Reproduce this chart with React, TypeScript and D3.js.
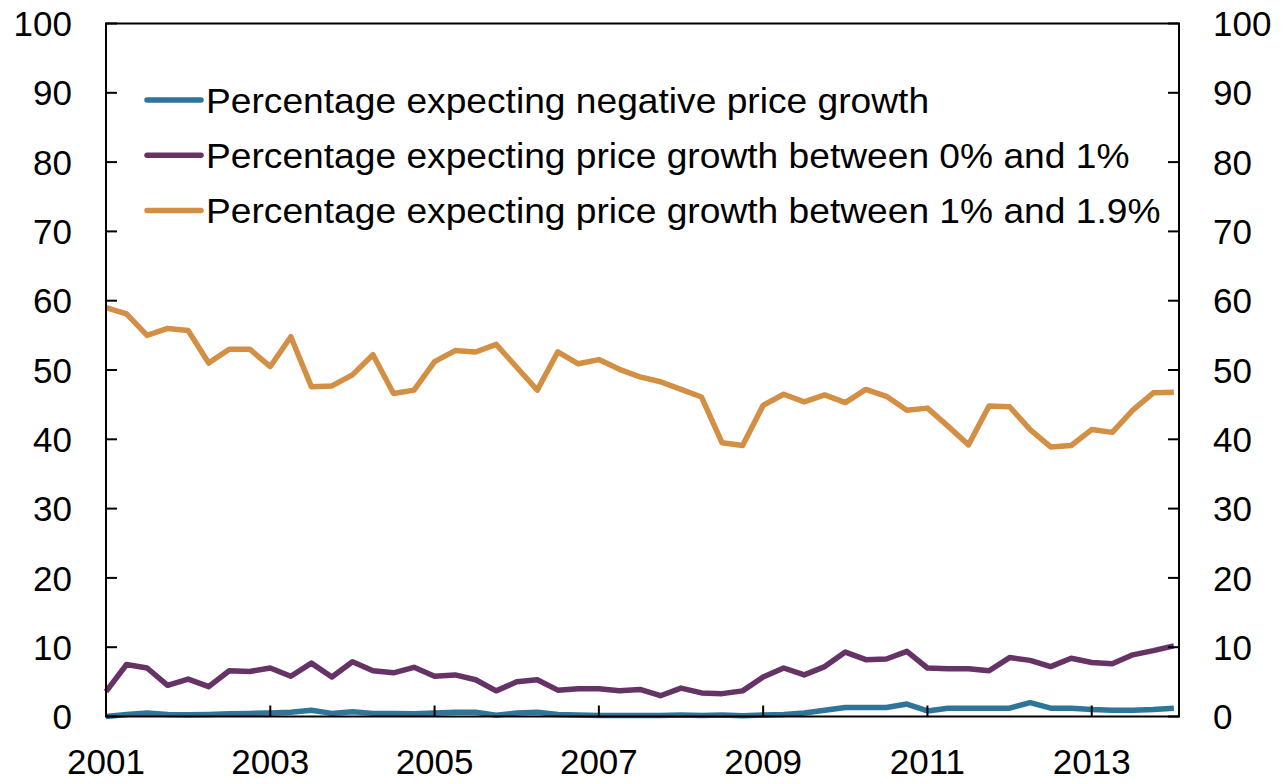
import React from "react";
import * as d3 from "d3";

// Quarterly survey results, 2001 Q1 – 2014 Q1 (per cent of respondents)
const quarters: number[] = d3.range(53);

const negativeGrowth: number[] = [
  0.0, 0.3, 0.5, 0.3, 0.25, 0.3, 0.4, 0.45, 0.5, 0.6,
  0.9, 0.45, 0.7, 0.45, 0.45, 0.4, 0.5, 0.6, 0.6, 0.2,
  0.5, 0.6, 0.3, 0.2, 0.15, 0.15, 0.15, 0.15, 0.2, 0.15,
  0.2, 0.1, 0.2, 0.3, 0.5, 0.9, 1.3, 1.3, 1.3, 1.8,
  0.8, 1.2, 1.2, 1.2, 1.2, 2.0, 1.2, 1.2, 1.0, 0.9,
  0.9, 1.0, 1.2,
];

const growth0to1: number[] = [
  3.6, 7.5, 7.0, 4.5, 5.4, 4.3, 6.6, 6.5, 7.0, 5.8,
  7.7, 5.7, 7.9, 6.6, 6.3, 7.1, 5.8, 6.0, 5.3, 3.7,
  5.0, 5.3, 3.8, 4.0, 4.0, 3.7, 3.9, 3.0, 4.1, 3.4,
  3.3, 3.7, 5.7, 7.0, 6.0, 7.2, 9.3, 8.2, 8.3, 9.4,
  7.0, 6.9, 6.9, 6.6, 8.5, 8.1, 7.2, 8.4, 7.8, 7.6,
  8.9, 9.5, 10.2,
];

const growth1to19: number[] = [
  59.0, 58.1, 55.0, 56.0, 55.7, 51.0, 53.0, 53.0, 50.5, 54.8,
  47.6, 47.7, 49.3, 52.2, 46.6, 47.1, 51.2, 52.8, 52.6, 53.7,
  50.4, 47.1, 52.6, 50.9, 51.5, 50.1, 49.0, 48.3, 47.2, 46.1,
  39.5, 39.1, 44.9, 46.5, 45.4, 46.4, 45.3, 47.2, 46.2, 44.2,
  44.5, 41.9, 39.2, 44.8, 44.7, 41.4, 38.9, 39.1, 41.4, 41.0,
  44.2, 46.7, 46.8,
];

const yTicks: number[] = [0, 10, 20, 30, 40, 50, 60, 70, 80, 90, 100];
const yearLabels: string[] = ["2001", "2003", "2005", "2007", "2009", "2011", "2013"];

const seriesNames: string[] = [
  "Percentage expecting negative price growth",
  "Percentage expecting price growth between 0% and 1%",
  "Percentage expecting price growth between 1% and 1.9%",
];
const seriesColors: string[] = ["#2D7699", "#663366", "#D38F44"];

const W = 1281;
const H = 784;
const left = 106;
const right = 1179;
const top = 23.5;
const bottom = 716.5;
const font = "'Liberation Sans', Arial, sans-serif";

export default function App() {
  const x = d3.scaleLinear().domain([0, 52.25]).range([left, right]);
  const y = d3.scaleLinear().domain([0, 100]).range([bottom, top]);
  const line = d3
    .line<number>()
    .x((_, i) => x(quarters[i]))
    .y((d) => y(d));

  const allSeries = [negativeGrowth, growth0to1, growth1to19];

  return (
    <svg
      width={W}
      height={H}
      style={{ position: "absolute", left: 0, top: 0, background: "#fff" }}
    >
      {/* data lines */}
      {allSeries.map((s, k) => (
        <path
          key={k}
          d={line(s) ?? ""}
          fill="none"
          stroke={seriesColors[k]}
          strokeWidth={5.5}
          strokeLinejoin="round"
        />
      ))}

      {/* plot frame */}
      <rect
        x={left}
        y={top}
        width={right - left}
        height={bottom - top}
        fill="none"
        stroke="#000"
        strokeWidth={2}
      />

      {/* y ticks and labels, both sides */}
      {yTicks.map((t) => (
        <g key={t}>
          <line x1={left} x2={left + 11} y1={y(t)} y2={y(t)} stroke="#000" strokeWidth={2} />
          <line x1={right - 11} x2={right} y1={y(t)} y2={y(t)} stroke="#000" strokeWidth={2} />
          <text
            x={72}
            y={y(t)}
            dy="0.36em"
            textAnchor="end"
            fontFamily={font}
            fontSize={35}
            fill="#000"
          >
            {t}
          </text>
          <text
            x={1213}
            y={y(t)}
            dy="0.36em"
            textAnchor="start"
            fontFamily={font}
            fontSize={35}
            fill="#000"
          >
            {t}
          </text>
        </g>
      ))}

      {/* x ticks every two years */}
      {yearLabels.map((lab, i) => {
        const xv = x(i * 8);
        return (
          <g key={lab}>
            <line x1={xv} x2={xv} y1={bottom} y2={bottom - 11} stroke="#000" strokeWidth={2} />
            <text
              x={xv}
              y={774}
              textAnchor="middle"
              fontFamily={font}
              fontSize={35}
              fill="#000"
            >
              {lab}
            </text>
          </g>
        );
      })}

      {/* legend */}
      {seriesNames.map((name, k) => {
        const ly = 100 + k * 55.3;
        return (
          <g key={name}>
            <line
              x1={147}
              x2={201}
              y1={ly}
              y2={ly}
              stroke={seriesColors[k]}
              strokeWidth={5.5}
              strokeLinecap="round"
            />
            <g transform={`translate(206, ${ly + 12.5}) scale(1.062, 1)`}>
              <text x={0} y={0} fontFamily={font} fontSize={35} fill="#000">
                {name}
              </text>
            </g>
          </g>
        );
      })}
    </svg>
  );
}
